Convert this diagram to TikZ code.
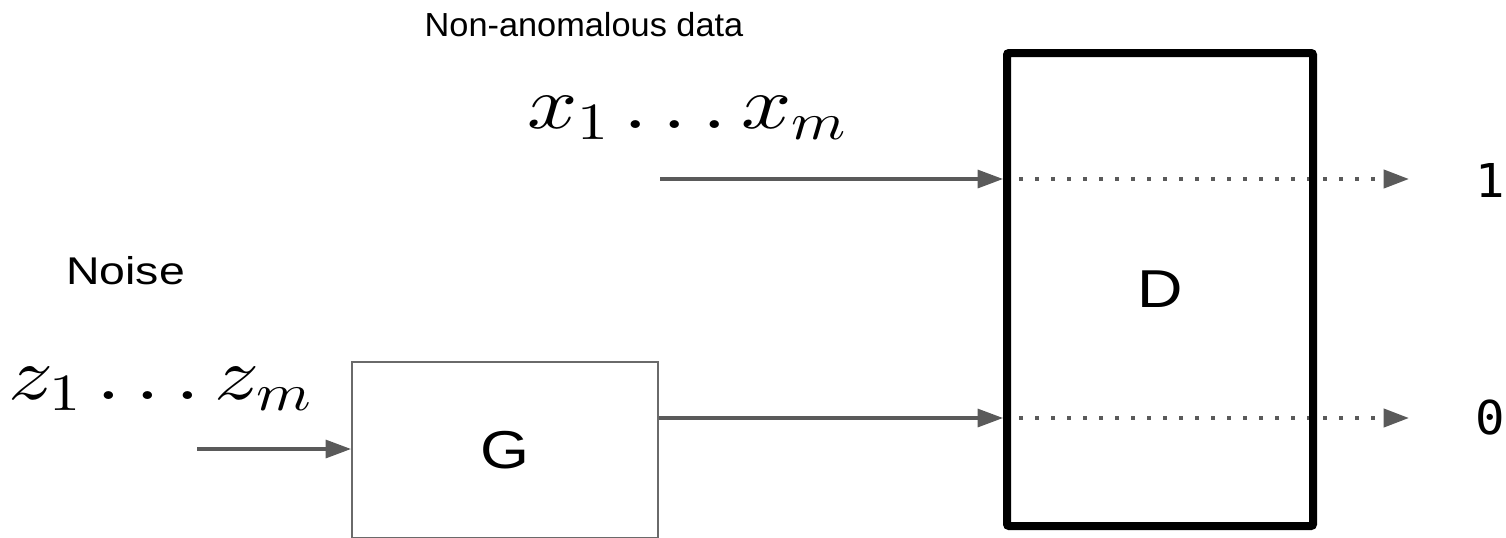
\RequirePackage{fix-cm}
\documentclass[tikz,border=0pt]{standalone}
\usepackage[no-math]{fontspec}
\setmainfont{Liberation Sans}
\newfontfamily\digitfont{DejaVu Sans Mono}
% math letters and digits from the 10pt designs at every size
\DeclareFontShape{OML}{cmm}{m}{it}{<->cmmi10}{}
\DeclareFontShape{OT1}{cmr}{m}{n}{<->cmr10}{}
\usetikzlibrary{arrows.meta}
\pgfdeclarelayer{bg}
\pgfsetlayers{bg,main}
\definecolor{wiregray}{HTML}{5A5A5A}
\definecolor{boxgray}{HTML}{6A6A6A}
% text in this figure is set slightly wide
\newcommand{\wide}[2][1.18]{\scalebox{#1}[1]{#2}}
\begin{document}
\begin{tikzpicture}[x=0.75pt,y=-0.75pt,
  wire/.style={draw=wiregray, line width=2.3pt,
    -{Triangle[length=19pt,width=13.5pt]}},
  dotwire/.style={wire, line width=3pt,
    dash pattern=on 3pt off 9pt},
  thinbox/.style={draw=boxgray, line width=1.5pt, fill=white,
    minimum width=229.5pt, minimum height=132pt, inner sep=0pt},
  thickbox/.style={draw=black, line width=6pt, rounded corners=1.5pt,
    minimum width=229.5pt, minimum height=354.75pt, inner sep=0pt},
  boxtext/.style={font=\fontsize{40}{48}\selectfont},
  caption/.style={inner sep=0pt},
  mathlabel/.style={inner sep=0pt, font=\fontsize{56}{64}\selectfont},
  outlabel/.style={inner sep=0pt, font=\digitfont\fontsize{35}{40}\selectfont}]
\useasboundingbox (0,0) rectangle (1506,537);
\clip (0,0) rectangle (1506,537);

% blocks
\node[thinbox] (G) at (505,450) {};
\node[boxtext] (Gtext) at (G.center) {\wide{G}};
\node[thickbox] (D) at (1160,289.5) {};
\node[boxtext] (Dtext) at (D.center) {\wide{D}};

% captions and symbols
\node[caption, anchor=base, font=\fontsize{25}{30}\selectfont]
  (datacap) at (584,36) {\wide[1.03]{Non-anomalous data}};
\node[caption, anchor=base west, font=\fontsize{29}{34}\selectfont]
  (noisecap) at (66,284) {\wide[1.2]{Noise}};
\node[mathlabel, anchor=base west] (xs) at (527,128) {\wide[1.18]{$x_1\ldots x_m$}};
\node[mathlabel, anchor=base west] (zs) at (8,399) {\wide[1.19]{$z_1\ldots z_m$}};

% rows of the two signals
\coordinate (row1) at (0,179);
\coordinate (row0) at (0,418);
\coordinate (xin) at (660,179);
\coordinate (zin) at (197,449);
\coordinate (out1) at (1409,179);
\coordinate (out0) at (1409,418);
\node[outlabel] (one) at (1490,180) {\wide[1.05]{1}};
\node[outlabel] (zero) at (1490,418) {\wide[1.05]{0}};

% connectors
\draw[wire] (zin) -- (zin -| G.west);
\begin{pgfonlayer}{bg}
  \draw[wire] (xin) -- (D.west |- row1);
  \draw[wire] (G.east |- row0) -- (D.west |- row0);
  \draw[dotwire] (D.west |- row1) -- (out1);
  \draw[dotwire] (D.west |- row0) -- (out0);
\end{pgfonlayer}
\end{tikzpicture}
\end{document}
